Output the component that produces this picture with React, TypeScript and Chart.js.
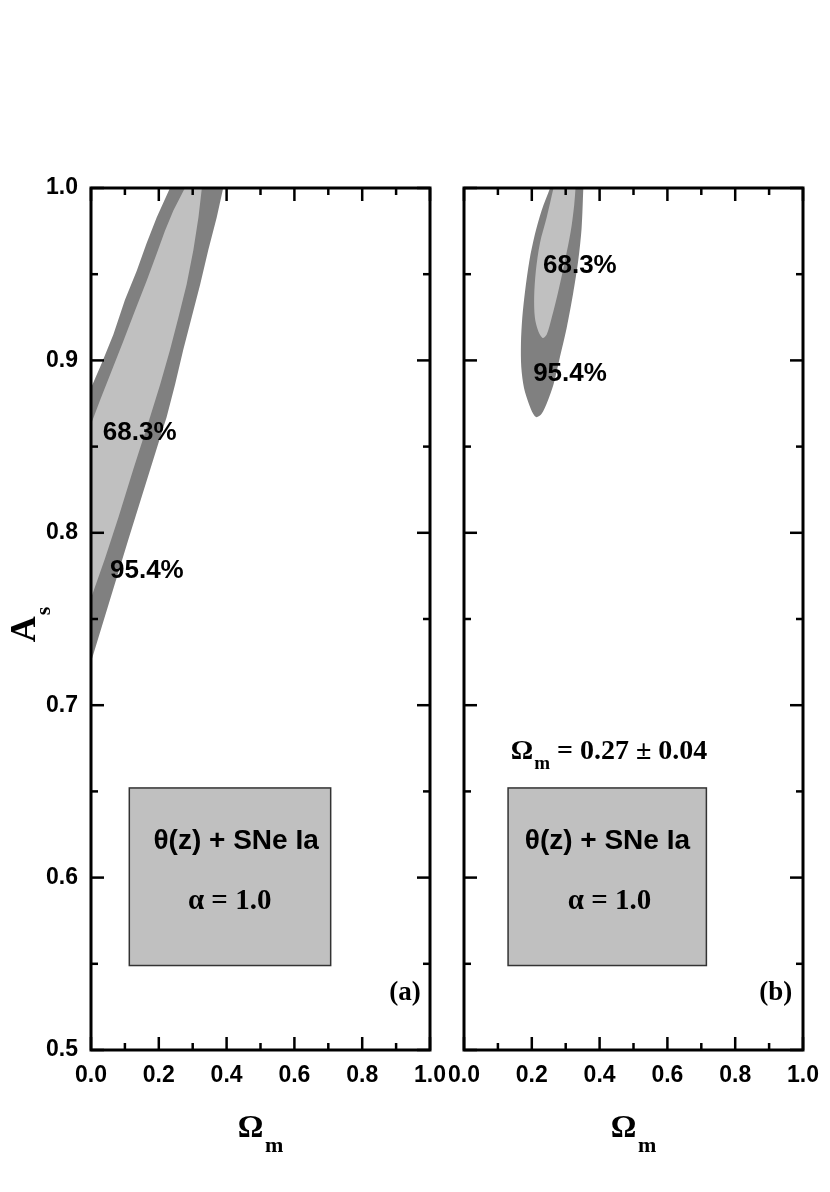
import React, { useEffect, useRef } from 'react';
import { Chart, registerables } from 'chart.js';

Chart.register(...registerables);

// ---------- Data (Ω_m on x, A_s on y) ----------
// Panel (a) 95.4% contour
const outerA_om = [0, 0.031, 0.066, 0.1, 0.135, 0.164, 0.194, 0.233, 0.39, 0.371, 0.346, 0.322, 0.297, 0.272, 0.248, 0.223, 0.213, 0.11, 0];
const outerA_as = [0.884, 0.898, 0.915, 0.935, 0.952, 0.968, 0.983, 1.0, 1.0, 0.983, 0.964, 0.944, 0.925, 0.906, 0.886, 0.867, 0.861, 0.796, 0.725];
// Panel (a) 68.3% contour
const innerA_om = [0, 0.027, 0.061, 0.095, 0.13, 0.164, 0.194, 0.218, 0.243, 0.277, 0.327, 0.317, 0.302, 0.282, 0.258, 0.233, 0.204, 0.174, 0.125, 0.081, 0.041, 0];
const innerA_as = [0.863, 0.877, 0.894, 0.911, 0.929, 0.946, 0.962, 0.975, 0.987, 1.0, 1.0, 0.983, 0.964, 0.944, 0.925, 0.906, 0.886, 0.867, 0.837, 0.809, 0.785, 0.762];
// Panel (b) 95.4% contour
const outerB_om = [0.254, 0.229, 0.209, 0.193, 0.18, 0.172, 0.168, 0.169, 0.177, 0.191, 0.204, 0.214, 0.229, 0.244, 0.264, 0.283, 0.303, 0.322, 0.337, 0.347, 0.352];
const outerB_as = [1.0, 0.987, 0.973, 0.958, 0.94, 0.925, 0.91, 0.896, 0.884, 0.875, 0.869, 0.867, 0.869, 0.875, 0.886, 0.902, 0.919, 0.939, 0.958, 0.977, 1.0];
// Panel (b) 68.3% contour
const innerB_om = [0.264, 0.244, 0.224, 0.212, 0.207, 0.209, 0.219, 0.232, 0.244, 0.259, 0.278, 0.298, 0.315, 0.325, 0.329];
const innerB_as = [1.0, 0.983, 0.968, 0.952, 0.937, 0.925, 0.917, 0.913, 0.915, 0.925, 0.94, 0.958, 0.975, 0.99, 1.0];

// Axis ranges / tick steps
const xRange = [0, 1];
const yRange = [0.5, 1];
const xStep = 0.2;
const yStep = 0.1;

// Text annotations
const labelTexts = ['68.3%', '95.4%'];
const boxLines = ['θ(z) + SNe Ia', 'α = 1.0'];
const panelLetters = ['(a)', '(b)'];
const resultText = ' = 0.27 ± 0.04';

// ---------- Styling constants ----------
const SANS = '"Liberation Sans", Arial, Helvetica, sans-serif';
const SERIF = '"Liberation Serif", "Times New Roman", Times, serif';
const DARK = '#808080';
const LIGHT = '#c0c0c0';

const pts = (xs: number[], ys: number[]) => xs.map((x, i) => ({ x, y: ys[i] }));

type Part = { text: string; font: string; dy: number; gap?: number };

function drawParts(ctx: CanvasRenderingContext2D, parts: Part[], x: number, y: number, align: 'left' | 'center') {
  const widths = parts.map((p) => {
    ctx.font = p.font;
    return ctx.measureText(p.text).width + (p.gap || 0);
  });
  const total = widths.reduce((a, b) => a + b, 0);
  let cx = align === 'center' ? x - total / 2 : x;
  ctx.textAlign = 'left';
  ctx.textBaseline = 'alphabetic';
  parts.forEach((p, i) => {
    ctx.font = p.font;
    ctx.fillText(p.text, cx + (p.gap || 0), y + p.dy);
    cx += widths[i];
  });
}

type PanelCfg = {
  outer: { x: number; y: number }[];
  inner: { x: number; y: number }[];
  showY: boolean;
  yWidth: number;
  padRight: number;
  canvasLeft: number;
  canvasWidth: number;
  tension: number;
  labelPos: { x: number; y: number }[];
  box: { x0: number; x1: number; y0: number; y1: number };
  boxTextPos: { x: number; y: number }[];
  letter: string;
  letterPos: { x: number; y: number };
  result?: { x: number; y: number };
};

function makeDecor(cfg: PanelCfg) {
  return {
    id: 'panelDecor',
    afterDatasetsDraw(chart: any) {
      const ctx: CanvasRenderingContext2D = chart.ctx;
      const { left, right, top, bottom } = chart.chartArea;
      const xs = chart.scales.x;
      const ys = chart.scales.y;
      const X = (v: number) => xs.getPixelForValue(v);
      const Y = (v: number) => ys.getPixelForValue(v);
      ctx.save();
      ctx.fillStyle = '#000';

      // contour labels
      ctx.font = `bold 26px ${SANS}`;
      ctx.textAlign = 'left';
      ctx.textBaseline = 'middle';
      cfg.labelPos.forEach((p, i) => ctx.fillText(labelTexts[i], X(p.x), Y(p.y)));

      // legend box
      const bx0 = X(cfg.box.x0), bx1 = X(cfg.box.x1), by0 = Y(cfg.box.y1), by1 = Y(cfg.box.y0);
      ctx.fillStyle = LIGHT;
      ctx.fillRect(bx0, by0, bx1 - bx0, by1 - by0);
      ctx.strokeStyle = '#333';
      ctx.lineWidth = 1.5;
      ctx.strokeRect(bx0, by0, bx1 - bx0, by1 - by0);
      ctx.fillStyle = '#000';
      ctx.textAlign = 'center';
      ctx.textBaseline = 'middle';
      ctx.font = `bold 28px ${SANS}`;
      ctx.fillText(boxLines[0], X(cfg.boxTextPos[0].x), Y(cfg.boxTextPos[0].y));
      ctx.font = `bold 29px ${SERIF}`;
      ctx.fillText(boxLines[1], X(cfg.boxTextPos[1].x), Y(cfg.boxTextPos[1].y));

      // panel letter
      ctx.font = `bold 27px ${SERIF}`;
      ctx.textAlign = 'right';
      ctx.textBaseline = 'middle';
      ctx.fillText(cfg.letter, X(cfg.letterPos.x), Y(cfg.letterPos.y));

      // result text
      if (cfg.result) {
        drawParts(
          ctx,
          [
            { text: 'Ω', font: `bold 28px ${SERIF}`, dy: 0 },
            { text: 'm', font: `bold 19px ${SERIF}`, dy: 10, gap: 1 },
            { text: resultText, font: `bold 28px ${SERIF}`, dy: 0 },
          ],
          X(cfg.result.x),
          Y(cfg.result.y) + 9,
          'left'
        );
      }

      // frame
      ctx.strokeStyle = '#000';
      ctx.lineWidth = 3;
      ctx.strokeRect(left, top, right - left, bottom - top);

      // inward ticks on all sides
      ctx.lineWidth = 2.5;
      const xt = xs.ticks.map((t: any) => t.value);
      const yt = ys.ticks.map((t: any) => t.value);
      const tick = (x1: number, y1: number, x2: number, y2: number) => {
        ctx.beginPath();
        ctx.moveTo(x1, y1);
        ctx.lineTo(x2, y2);
        ctx.stroke();
      };
      const drawX = (v: number, len: number) => {
        const p = X(v);
        tick(p, bottom, p, bottom - len);
        tick(p, top, p, top + len);
      };
      const drawY = (v: number, len: number) => {
        const p = Y(v);
        tick(left, p, left + len, p);
        tick(right, p, right - len, p);
      };
      xt.forEach((v: number, i: number) => {
        drawX(v, 13);
        if (i < xt.length - 1) drawX((v + xt[i + 1]) / 2, 7);
      });
      yt.forEach((v: number, i: number) => {
        drawY(v, 13);
        if (i < yt.length - 1) drawY((v + yt[i + 1]) / 2, 7);
      });

      // x-axis title Ω_m
      ctx.fillStyle = '#000';
      drawParts(
        ctx,
        [
          { text: 'Ω', font: `bold 32px ${SERIF}`, dy: 0 },
          { text: 'm', font: `bold 22px ${SERIF}`, dy: 15, gap: 1.5 },
        ],
        (left + right) / 2,
        bottom + 87,
        'center'
      );

      // y-axis title A_s
      if (cfg.showY) {
        ctx.save();
        ctx.translate(left - 56, (top + bottom) / 2 + 5.5);
        ctx.rotate(-Math.PI / 2);
        drawParts(
          ctx,
          [
            { text: 'A', font: `bold 36px ${SERIF}`, dy: 0 },
            { text: 's', font: `bold 22px ${SERIF}`, dy: 15, gap: 1 },
          ],
          0,
          0,
          'center'
        );
        ctx.restore();
      }
      ctx.restore();
    },
  };
}

function Panel({ cfg }: { cfg: PanelCfg }) {
  const ref = useRef<HTMLCanvasElement>(null);
  useEffect(() => {
    if (!ref.current) return;
    const tickFont = { family: SANS, size: 23, weight: 'bold' as const };
    const chart = new Chart(ref.current, {
      type: 'line',
      data: {
        datasets: [
          {
            data: cfg.outer,
            backgroundColor: DARK,
            borderWidth: 0,
            pointRadius: 0,
            fill: 'shape',
            tension: cfg.tension,
            order: 2,
          } as any,
          {
            data: cfg.inner,
            backgroundColor: LIGHT,
            borderWidth: 0,
            pointRadius: 0,
            fill: 'shape',
            tension: cfg.tension,
            order: 1,
          } as any,
        ],
      },
      options: {
        animation: false,
        responsive: false,
        devicePixelRatio: 1,
        events: [],
        layout: { padding: { left: 0, right: cfg.padRight, top: 188, bottom: 0 } },
        plugins: { legend: { display: false }, tooltip: { enabled: false } },
        scales: {
          x: {
            type: 'linear',
            min: xRange[0],
            max: xRange[1],
            afterFit: (s: any) => {
              s.height = 142;
              s.paddingLeft = 0;
              s.paddingRight = 0;
            },
            grid: { display: false, drawTicks: false },
            border: { display: false },
            ticks: {
              stepSize: xStep,
              padding: 12,
              font: tickFont,
              color: '#000',
              maxRotation: 0,
              autoSkip: false,
              callback: (v: any) => Number(v).toFixed(1),
            },
          },
          y: {
            type: 'linear',
            min: yRange[0],
            max: yRange[1],
            afterFit: (s: any) => {
              s.width = cfg.yWidth;
              s.paddingTop = 0;
              s.paddingBottom = 0;
            },
            grid: { display: false, drawTicks: false },
            border: { display: false },
            ticks: {
              display: cfg.showY,
              stepSize: yStep,
              padding: 13,
              font: tickFont,
              color: '#000',
              autoSkip: false,
              callback: (v: any) => Number(v).toFixed(1),
            },
          },
        },
      } as any,
      plugins: [makeDecor(cfg)],
    });
    return () => chart.destroy();
  }, []);
  return (
    <canvas
      ref={ref}
      width={cfg.canvasWidth}
      height={1192}
      style={{ position: 'absolute', left: cfg.canvasLeft, top: 0, width: cfg.canvasWidth, height: 1192 }}
    />
  );
}

const panelA: PanelCfg = {
  outer: pts(outerA_om, outerA_as),
  inner: pts(innerA_om, innerA_as),
  showY: true,
  yWidth: 91,
  padRight: 30,
  canvasLeft: 0,
  canvasWidth: 460,
  tension: 0,
  labelPos: [
    { x: 0.035, y: 0.858 },
    { x: 0.056, y: 0.778 },
  ],
  box: { x0: 0.113, x1: 0.707, y0: 0.549, y1: 0.652 },
  boxTextPos: [
    { x: 0.428, y: 0.621 },
    { x: 0.409, y: 0.586 },
  ],
  letter: panelLetters[0],
  letterPos: { x: 0.973, y: 0.533 },
};

const panelB: PanelCfg = {
  outer: pts(outerB_om, outerB_as),
  inner: pts(innerB_om, innerB_as),
  showY: false,
  yWidth: 24,
  padRight: 27,
  canvasLeft: 440,
  canvasWidth: 390,
  tension: 0.3,
  labelPos: [
    { x: 0.233, y: 0.955 },
    { x: 0.204, y: 0.892 },
  ],
  box: { x0: 0.13, x1: 0.715, y0: 0.549, y1: 0.652 },
  boxTextPos: [
    { x: 0.423, y: 0.621 },
    { x: 0.429, y: 0.586 },
  ],
  letter: panelLetters[1],
  letterPos: { x: 0.968, y: 0.533 },
  result: { x: 0.138, y: 0.674 },
};

export default function App() {
  return (
    <div style={{ position: 'absolute', left: 0, top: 0, width: 830, height: 1192, background: '#fff' }}>
      <Panel cfg={panelA} />
      <Panel cfg={panelB} />
    </div>
  );
}
